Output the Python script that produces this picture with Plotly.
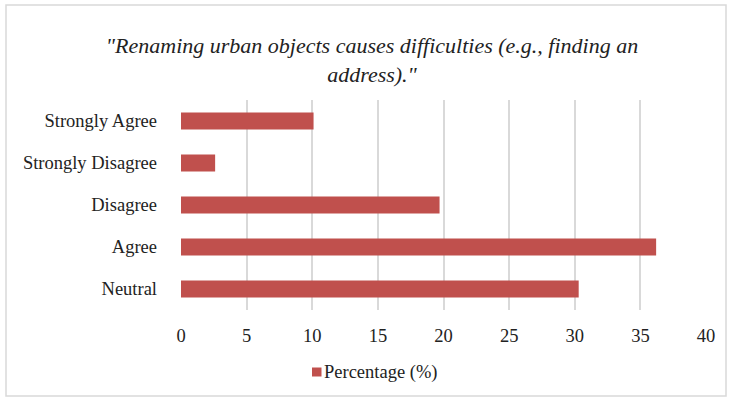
import plotly.graph_objects as go

# Survey responses, listed bottom to top as drawn on the y axis
categories = ["Neutral", "Agree", "Disagree", "Strongly Disagree", "Strongly Agree"]
percentages = [30.3, 36.2, 19.7, 2.6, 10.1]
x_ticks = [0, 5, 10, 15, 20, 25, 30, 35, 40]
series_name = "Percentage (%)"
bar_color = "#C0504D"

W, H = 729, 398
left, right, top, bottom = 181, 23, 100, 88
plot_w = W - left - right
plot_h = H - top - bottom
SERIF = "Liberation Serif"
TEXT = "#222222"


def px_x(px):
    """Page pixel column -> paper x."""
    return (px - left) / plot_w


def px_y(py):
    """Page pixel row -> paper y."""
    return (top + plot_h - py) / plot_h


fig = go.Figure()
fig.add_trace(go.Bar(
    x=percentages,
    y=categories,
    orientation="h",
    name=series_name,
    marker=dict(color=bar_color, line=dict(width=0)),
    width=0.4,
    showlegend=False,
))

fig.update_layout(
    width=W,
    height=H,
    margin=dict(l=left, r=right, t=top, b=bottom),
    paper_bgcolor="white",
    plot_bgcolor="white",
    font=dict(family=SERIF, size=18.5, color=TEXT),
    title=dict(
        text='<i>"Renaming urban objects causes difficulties (e.g., finding an<br>address)."</i>',
        font=dict(family=SERIF, size=22, color=TEXT),
        x=372 / W,
        xanchor="center",
        xref="container",
        y=1 - 53 / H,
        yanchor="middle",
        yref="container",
    ),
    bargap=0.6,
)

fig.update_xaxes(
    range=[0, 40],
    tickvals=x_ticks,
    showgrid=True,
    gridcolor="#d9d9d9",
    gridwidth=1.5,
    zeroline=False,
    showline=False,
    ticks="",
    ticklabelstandoff=12,
)
fig.update_yaxes(
    showgrid=False,
    showline=False,
    ticks="",
    ticklabelstandoff=23,
)

# Legend key below the axis: a square swatch followed by the series name
fig.add_shape(
    type="rect",
    xref="paper", yref="paper",
    x0=px_x(312), x1=px_x(321.5),
    y0=px_y(376.5), y1=px_y(367.5),
    fillcolor=bar_color,
    line=dict(width=0),
)
fig.add_annotation(
    xref="paper", yref="paper",
    x=px_x(322), xanchor="left",
    y=px_y(372), yanchor="middle",
    text=series_name,
    showarrow=False,
    font=dict(family=SERIF, size=18.5, color=TEXT),
)

# Outer frame around the chart
fig.add_shape(
    type="rect",
    xref="paper", yref="paper",
    x0=px_x(6), x1=px_x(726),
    y0=px_y(396), y1=px_y(5),
    line=dict(color="#d9d9d9", width=1.5),
    layer="below",
)

fig.write_html("out.html")
